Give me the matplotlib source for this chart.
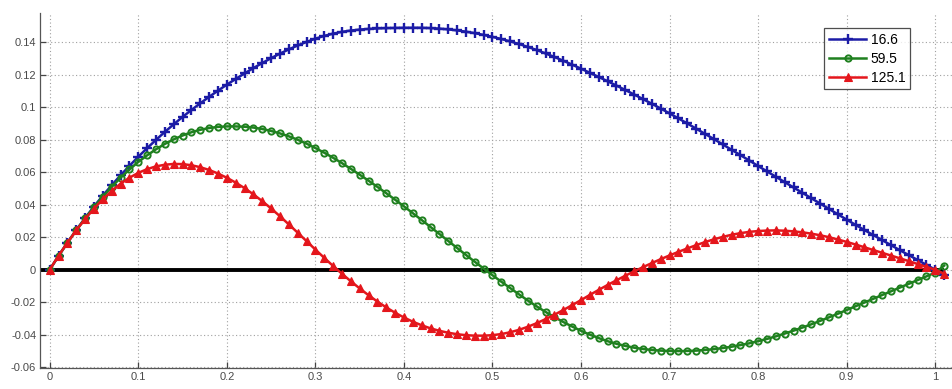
import numpy as np
import matplotlib
matplotlib.use("Agg")
import matplotlib.pyplot as plt

# sample positions along the span (0 .. 1.01, step 0.01)
x = np.linspace(0.0, 1.01, 102)

blue_16_6 = [
    0.0000, 0.0085, 0.0166, 0.0244, 0.0318, 0.0389, 0.0456, 0.0520, 0.0581, 0.0639,
    0.0695, 0.0748, 0.0799, 0.0848, 0.0895, 0.0940, 0.0983, 0.1024, 0.1064, 0.1102,
    0.1139, 0.1174, 0.1208, 0.1241, 0.1272, 0.1302, 0.1330, 0.1356, 0.1380, 0.1402,
    0.1422, 0.1439, 0.1453, 0.1464, 0.1472, 0.1478, 0.1482, 0.1485, 0.1487, 0.1488,
    0.1489, 0.1489, 0.1489, 0.1487, 0.1484, 0.1479, 0.1473, 0.1465, 0.1456, 0.1445,
    0.1433, 0.1420, 0.1405, 0.1389, 0.1371, 0.1352, 0.1331, 0.1309, 0.1286, 0.1262,
    0.1237, 0.1212, 0.1186, 0.1160, 0.1133, 0.1106, 0.1078, 0.1050, 0.1021, 0.0992,
    0.0962, 0.0931, 0.0900, 0.0868, 0.0836, 0.0804, 0.0771, 0.0738, 0.0705, 0.0672,
    0.0638, 0.0605, 0.0572, 0.0539, 0.0506, 0.0473, 0.0440, 0.0407, 0.0374, 0.0341,
    0.0308, 0.0276, 0.0244, 0.0213, 0.0182, 0.0151, 0.0120, 0.0090, 0.0060, 0.0030,
    0.0000, -0.0030,
]

green_59_5 = [
    0.0000, 0.0085, 0.0166, 0.0243, 0.0316, 0.0385, 0.0450, 0.0510, 0.0566, 0.0617,
    0.0663, 0.0704, 0.0741, 0.0774, 0.0802, 0.0826, 0.0846, 0.0861, 0.0872, 0.0879,
    0.0882, 0.0882, 0.0880, 0.0875, 0.0866, 0.0854, 0.0839, 0.0821, 0.0800, 0.0776,
    0.0749, 0.0720, 0.0689, 0.0656, 0.0621, 0.0585, 0.0548, 0.0510, 0.0471, 0.0431,
    0.0390, 0.0348, 0.0306, 0.0263, 0.0220, 0.0177, 0.0134, 0.0091, 0.0049, 0.0007,
    -0.0034, -0.0074, -0.0113, -0.0152, -0.0190, -0.0226, -0.0260, -0.0292, -0.0322, -0.0350,
    -0.0376, -0.0400, -0.0421, -0.0440, -0.0456, -0.0469, -0.0480, -0.0488, -0.0494, -0.0498,
    -0.0500, -0.0501, -0.0500, -0.0498, -0.0494, -0.0489, -0.0482, -0.0474, -0.0464, -0.0453,
    -0.0440, -0.0426, -0.0410, -0.0393, -0.0375, -0.0356, -0.0336, -0.0315, -0.0293, -0.0271,
    -0.0248, -0.0225, -0.0202, -0.0179, -0.0156, -0.0133, -0.0110, -0.0087, -0.0064, -0.0041,
    -0.0018, 0.0025,
]

red_125_1 = [
    0.0000, 0.0086, 0.0166, 0.0242, 0.0312, 0.0376, 0.0434, 0.0485, 0.0529, 0.0566,
    0.0596, 0.0619, 0.0636, 0.0646, 0.0651, 0.0650, 0.0643, 0.0631, 0.0614, 0.0592,
    0.0566, 0.0536, 0.0502, 0.0464, 0.0422, 0.0377, 0.0329, 0.0279, 0.0228, 0.0176,
    0.0124, 0.0073, 0.0023, -0.0025, -0.0071, -0.0115, -0.0157, -0.0196, -0.0232, -0.0265,
    -0.0294, -0.0320, -0.0342, -0.0361, -0.0376, -0.0388, -0.0397, -0.0403, -0.0406, -0.0406,
    -0.0403, -0.0396, -0.0385, -0.0370, -0.0351, -0.0329, -0.0304, -0.0277, -0.0248, -0.0218,
    -0.0187, -0.0155, -0.0124, -0.0094, -0.0065, -0.0037, -0.0010, 0.0016, 0.0041, 0.0065,
    0.0088, 0.0110, 0.0131, 0.0151, 0.0170, 0.0187, 0.0202, 0.0215, 0.0225, 0.0233,
    0.0238, 0.0241, 0.0242, 0.0240, 0.0236, 0.0230, 0.0222, 0.0212, 0.0200, 0.0186,
    0.0171, 0.0155, 0.0138, 0.0121, 0.0104, 0.0087, 0.0070, 0.0053, 0.0035, 0.0017,
    0.0000, -0.0025,
]

legend_labels = ["16.6", "59.5", "125.1"]
xtick_vals = [0, 0.1, 0.2, 0.3, 0.4, 0.5, 0.6, 0.7, 0.8, 0.9, 1.0]
xtick_labels = ["0", "0.1", "0.2", "0.3", "0.4", "0.5", "0.6", "0.7", "0.8", "0.9", "1"]
ytick_vals = [-0.06, -0.04, -0.02, 0, 0.02, 0.04, 0.06, 0.08, 0.10, 0.12, 0.14]
ytick_labels = ["-0.06", "-0.04", "-0.02", "0", "0.02", "0.04", "0.06", "0.08", "0.1", "0.12", "0.14"]

plt.rcParams['font.family'] = ['Liberation Sans', 'DejaVu Sans']

fig = plt.figure(figsize=(9.53, 3.89), dpi=100)
ax = fig.add_axes([40.4 / 953, 21 / 389, 912.6 / 953, 355 / 389])

ax.set_xlim(-0.0105, 1.02)
ax.set_ylim(-0.0605, 0.158)

ax.hlines(0, ax.get_xlim()[0], x[-1], color='black', lw=2.8, zorder=2)
ax.plot(x, blue_16_6, color='#1c1ca6', lw=1.8, marker='+', ms=6.5, mew=1.7,
        label=legend_labels[0], zorder=3)
ax.plot(x, green_59_5, color='#1f801f', lw=1.8, marker='o', ms=4.5, mew=1.4,
        mfc='none', label=legend_labels[1], zorder=4)
ax.plot(x, red_125_1, color='#e4161c', lw=1.8, marker='^', ms=6, mew=0.8,
        mfc='#e4161c', label=legend_labels[2], zorder=5)

ax.set_xticks(xtick_vals)
ax.set_xticklabels(xtick_labels)
ax.set_yticks(ytick_vals)
ax.set_yticklabels(ytick_labels)

ax.grid(True, linestyle=(0, (1, 2.2)), color='#a0a0a0', lw=0.8)
ax.set_axisbelow(True)
for s in ['top', 'right']:
    ax.spines[s].set_visible(False)
for s in ['left', 'bottom']:
    ax.spines[s].set_color('#555555')
    ax.spines[s].set_linewidth(0.9)
ax.tick_params(axis='both', direction='in', length=4, width=0.9, color='#444444',
               labelsize=8, labelcolor='#4a4a4a', pad=3)

leg = ax.legend(loc='upper right', bbox_to_anchor=(0.9529, 0.9577), borderaxespad=0,
                fontsize=10, frameon=True, fancybox=False, edgecolor='#222222',
                handlelength=2.7, handletextpad=0.3, borderpad=0.35, labelspacing=0.35)
leg.get_frame().set_linewidth(0.9)

fig.savefig('out.png', dpi=100)
